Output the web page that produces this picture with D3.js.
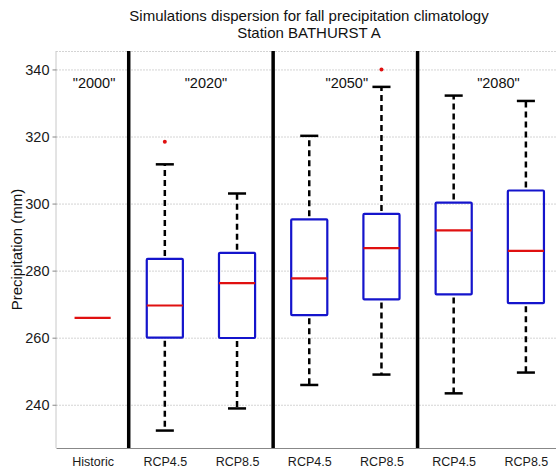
<!DOCTYPE html>
<html>
<head>
<meta charset="utf-8">
<script src="https://cdn.jsdelivr.net/npm/d3@7"></script>
<style>
  html, body { margin: 0; padding: 0; background: #fff; }
  svg { display: block; font-family: "Liberation Sans", Arial, sans-serif; }
</style>
</head>
<body>
<script>
// ---- data ----
const categories   = ["Historic", "RCP4.5", "RCP8.5", "RCP4.5", "RCP8.5", "RCP4.5", "RCP8.5"];
const lowWhisker   = [265.9, 232.3, 238.9, 245.9, 249.0, 243.4, 249.6];
const q1           = [265.9, 260.0, 259.9, 266.7, 271.4, 272.9, 270.3];
const medians      = [265.9, 269.6, 276.3, 277.7, 286.7, 292.0, 285.9];
const q3           = [265.9, 283.5, 285.3, 295.3, 296.9, 300.3, 303.9];
const highWhisker  = [265.9, 311.7, 303.0, 320.2, 334.8, 332.2, 330.6];
const outlierIndex = [1, 4];
const outlierValue = [318.4, 340.0];
const periodLabels = ['"2000"', '"2020"', '"2050"', '"2080"'];
const periodCenter = [1.02, 2.57, 4.52, 6.62];
const separators   = [1.5, 3.5, 5.5];
const yTicks       = [240, 260, 280, 300, 320, 340];
const titleLines   = ["Simulations dispersion for fall precipitation climatology", "Station BATHURST A"];
const yLabel       = "Precipitation (mm)";

// ---- layout ----
const W = 556, H = 468;
const svg = d3.select("body").append("svg").attr("width", W).attr("height", H);

const x = d3.scaleLinear().domain([0.5, 7.5]).range([56.5, 562]);
const y = d3.scaleLinear().domain([227.1, 345.5]).range([448, 51]);
const pTop = y.range()[1], pBottom = y.range()[0];
const pLeft = x.range()[0], pRight = x.range()[1];

// grid (dotted)
svg.append("g").selectAll("line").data(yTicks).join("line")
  .attr("x1", pLeft).attr("x2", pRight)
  .attr("y1", d => y(d) + 0.5).attr("y2", d => y(d) + 0.5)
  .attr("stroke", "#a8a8a8").attr("stroke-width", 1).attr("stroke-dasharray", "1,2");
// top border dotted
svg.append("line").attr("x1", pLeft).attr("x2", pRight).attr("y1", pTop + 0.5).attr("y2", pTop + 0.5)
  .attr("stroke", "#a8a8a8").attr("stroke-width", 1).attr("stroke-dasharray", "1,2");

// y axis
const yAxis = d3.axisLeft(y).tickValues(yTicks).tickSize(4).tickPadding(3);
const gy = svg.append("g").attr("transform", `translate(${pLeft},0)`).call(yAxis);
gy.select(".domain").attr("stroke", "#c8c8c8").attr("d", `M-0.5,${pTop}V${pBottom}`);
gy.selectAll(".tick line").attr("stroke", "#888");
gy.selectAll(".tick text").attr("font-size", "14.5px").attr("fill", "#1a1a1a")
  .attr("font-family", "Liberation Sans, Arial, sans-serif");

// x axis
const xAxis = d3.axisBottom(x).tickValues(d3.range(1, categories.length + 1))
  .tickFormat((d, i) => categories[i]).tickSize(0).tickPadding(9);
const gx = svg.append("g").attr("transform", `translate(0,${pBottom})`).call(xAxis);
gx.select(".domain").attr("stroke", "#888").attr("d", `M${pLeft},0.5H${pRight}`);
gx.selectAll(".tick text").attr("font-size", "12.5px").attr("fill", "#1a1a1a")
  .attr("font-family", "Liberation Sans, Arial, sans-serif");

// separators
svg.append("g").selectAll("line").data(separators).join("line")
  .attr("x1", d => x(d)).attr("x2", d => x(d)).attr("y1", pTop).attr("y2", pBottom)
  .attr("stroke", "#000").attr("stroke-width", 3.5);

// boxes
const idx = d3.range(categories.length);
const withLow = idx.filter(i => lowWhisker[i] < q1[i]);
const withHigh = idx.filter(i => highWhisker[i] > q3[i]);
const boxW = x(1.25) - x(1);    // half width of box (0.5 units total)
const capW = x(1.125) - x(1);   // half width of cap
const g = svg.append("g");

// whiskers dashed
g.selectAll(".wlo").data(withLow).join("line")
  .attr("x1", i => x(i + 1)).attr("x2", i => x(i + 1))
  .attr("y1", i => y(q1[i]) + 3).attr("y2", i => y(lowWhisker[i]))
  .attr("stroke", "#000").attr("stroke-width", 2.5).attr("stroke-dasharray", "6,4");
g.selectAll(".whi").data(withHigh).join("line")
  .attr("x1", i => x(i + 1)).attr("x2", i => x(i + 1))
  .attr("y1", i => y(q3[i]) - 3).attr("y2", i => y(highWhisker[i]))
  .attr("stroke", "#000").attr("stroke-width", 2.5).attr("stroke-dasharray", "6,4");
// caps
g.selectAll(".clo").data(withLow).join("line")
  .attr("x1", i => x(i + 1) - capW).attr("x2", i => x(i + 1) + capW)
  .attr("y1", i => y(lowWhisker[i])).attr("y2", i => y(lowWhisker[i]))
  .attr("stroke", "#000").attr("stroke-width", 2.5);
g.selectAll(".chi").data(withHigh).join("line")
  .attr("x1", i => x(i + 1) - capW).attr("x2", i => x(i + 1) + capW)
  .attr("y1", i => y(highWhisker[i])).attr("y2", i => y(highWhisker[i]))
  .attr("stroke", "#000").attr("stroke-width", 2.5);
// box
g.selectAll("rect").data(idx).join("rect")
  .attr("x", i => x(i + 1) - boxW).attr("width", 2 * boxW)
  .attr("y", i => y(q3[i])).attr("height", i => y(q1[i]) - y(q3[i]))
  .attr("rx", 1)
  .attr("fill", "none").attr("stroke", "#1414cc").attr("stroke-width", 2.2);
// median
g.selectAll(".med").data(idx).join("line")
  .attr("x1", i => x(i + 1) - boxW).attr("x2", i => x(i + 1) + boxW)
  .attr("y1", i => y(medians[i])).attr("y2", i => y(medians[i]))
  .attr("stroke", "#e01010").attr("stroke-width", 2.2);
// outliers
g.selectAll("circle").data(outlierIndex).join("circle")
  .attr("cx", (d) => x(d + 1)).attr("cy", (d, j) => y(outlierValue[j]))
  .attr("r", 2).attr("fill", "#e01010");

// period labels
svg.append("g").selectAll("text").data(periodLabels).join("text")
  .attr("x", (d, i) => x(periodCenter[i])).attr("y", y(335.9))
  .attr("dy", "0.35em").attr("text-anchor", "middle")
  .attr("font-size", "14.5px").attr("fill", "#111").text(d => d);

// title
svg.append("g").selectAll("text").data(titleLines).join("text")
  .attr("x", 309).attr("y", (d, i) => 21 + i * 16.5)
  .attr("text-anchor", "middle").attr("font-size", "15px").attr("fill", "#111").text(d => d);

// y label
svg.append("text").attr("transform", `translate(22,${(pTop + pBottom) / 2}) rotate(-90)`)
  .attr("text-anchor", "middle").attr("font-size", "15px").attr("fill", "#111").text(yLabel);
</script>
</body>
</html>
